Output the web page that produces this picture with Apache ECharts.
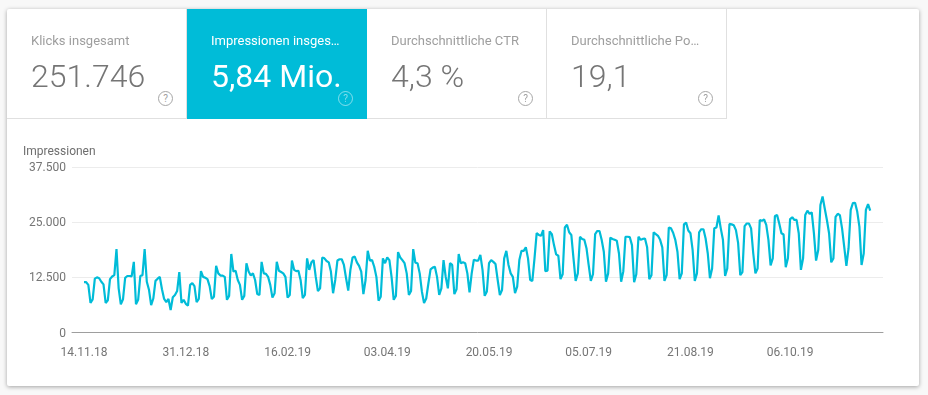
<!DOCTYPE html>
<html>
<head>
<meta charset="utf-8">
<title>Impressionen</title>
<script src="https://cdn.jsdelivr.net/npm/echarts@6/dist/echarts.min.js"></script>
<style>
  html, body { margin: 0; padding: 0; width: 928px; height: 395px; overflow: hidden; background: #f8f8f8; font-family: Roboto, sans-serif; }
  .card { position: absolute; left: 7px; top: 9px; width: 912px; height: 377px; background: #fff; border-radius: 2px; box-shadow: 0 1px 4px rgba(0,0,0,.35); }
  .tile { position: absolute; top: 0; width: 179px; height: 109px; border-right: 1px solid #e0e0e0; border-bottom: 1px solid #e0e0e0; box-sizing: content-box; color: #757575; }
  .tile .name { position: absolute; left: 24px; top: 24px; font-size: 13px; line-height: 16px; color: #9e9e9e; white-space: nowrap; will-change: transform; }
  .tile .num { position: absolute; left: 24px; top: 47px; font-size: 32px; line-height: 40px; font-weight: 300; white-space: nowrap; will-change: transform; }
  .tile .help { position: absolute; left: 151px; top: 82px; width: 13px; height: 13px; border: 1px solid #a6a6a6; border-radius: 50%; font-size: 10px; line-height: 13px; text-align: center; color: #9e9e9e; }
  .tile.active { background: #00bcd8; color: #fff; border-right-color: #00bcd8; border-bottom-color: #00bcd8; }
  .tile.active .name { color: #fff; font-weight: 400; }
  .tile.active .num { font-weight: 400; }
  .tile.active .help { color: rgba(255,255,255,.5); border-color: rgba(255,255,255,.5); }
  #chart { position: absolute; left: 0; top: 111px; width: 912px; height: 266px; }
</style>
</head>
<body>
<div class="card">
  <div id="tiles"></div>
  <div id="chart"></div>
</div>
<script>
const tileNames = ['Klicks insgesamt', 'Impressionen insges…', 'Durchschnittliche CTR', 'Durchschnittliche Po…'];
const tileValues = ['251.746', '5,84 Mio.', '4,3 %', '19,1'];

const tickDays = [0, 47, 94, 140, 187, 233, 280, 326];
const tickLabels = ['14.11.18', '31.12.18', '16.02.19', '03.04.19', '20.05.19', '05.07.19', '21.08.19', '06.10.19'];
const yLabels = { 0: '0', 12500: '12.500', 25000: '25.000', 37500: '37.500' };

// one row per week, from 14.11.18
const impressions = [
  11400, 11400, 10800, 6700, 7500, 12200, 12500,
  12300, 11500, 10900, 6700, 7300, 12100, 12700,
  13000, 18900, 10000, 6400, 7500, 12400, 12800,
  12800, 12700, 16000, 6400, 7400, 12800, 13000,
  18900, 11500, 9700, 6200, 7700, 11700, 12200,
  12600, 9800, 7600, 6900, 7600, 5100, 8000,
  8500, 9400, 13700, 6700, 7400, 6500, 6100,
  10800, 11200, 10500, 6900, 7600, 13900, 12600,
  12400, 12100, 10500, 7600, 8100, 15100, 13400,
  12900, 12900, 12600, 7400, 8300, 17800, 13800,
  14000, 11900, 10800, 7400, 8300, 15700, 13800,
  12900, 13400, 11900, 8700, 8500, 16000, 13400,
  13300, 12600, 10800, 7900, 8900, 16000, 14000,
  13700, 13400, 12600, 7900, 8500, 16300, 14200,
  13900, 14000, 11900, 7800, 8500, 16800, 14200,
  15900, 16400, 12600, 9400, 10000, 17000, 16800,
  16200, 15900, 13800, 8900, 11900, 16300, 16600,
  16600, 15300, 12300, 9500, 14200, 17000, 17200,
  15900, 15100, 13800, 8700, 11900, 18500, 16300,
  16400, 14900, 12600, 7200, 8100, 16800, 15700,
  17000, 16400, 12600, 7400, 8300, 18200, 17000,
  16400, 15700, 13400, 8500, 9400, 18900, 15800,
  15700, 13400, 9300, 6700, 7700, 11100, 14300,
  14700, 14900, 12600, 8500, 10000, 16400, 12600,
  10000, 15700, 15300, 8700, 9800, 17800, 15700,
  15900, 15700, 13400, 9100, 13400, 16500, 16300,
  16300, 17600, 14200, 8300, 9300, 15700, 16400,
  16000, 15500, 11900, 8500, 9600, 16800, 18500,
  15300, 13400, 12600, 8900, 10400, 16400, 18500,
  18500, 19300, 16800, 11900, 11700, 16800, 22500,
  22100, 21900, 23200, 13900, 14000, 22900, 22300,
  19800, 17700, 17400, 12100, 13200, 23800, 24400,
  22700, 22100, 16800, 11700, 13400, 21700, 21200,
  21000, 19100, 15300, 11700, 13200, 22300, 23000,
  23000, 21000, 18300, 11500, 13400, 21500, 21200,
  21000, 20800, 17900, 11500, 13900, 21700, 21700,
  21600, 19800, 11400, 13200, 21700, 21000, 21200,
  21300, 19300, 12100, 13000, 22700, 22300, 21900,
  21000, 19300, 11700, 13000, 23800, 23600, 22600,
  21000, 18300, 12100, 13400, 24500, 24900, 23100,
  22500, 18700, 11700, 13400, 22700, 23400, 23400,
  21300, 17900, 12300, 14500, 23600, 23800, 26500,
  23600, 21000, 12800, 14500, 24600, 24500, 24300,
  23200, 20300, 13000, 13700, 24100, 24700, 24700,
  23600, 17900, 13400, 14500, 25500, 25300, 25600,
  24400, 21000, 15200, 16800, 26400, 26600, 24700,
  22500, 22200, 14800, 16800, 25700, 26100, 25500,
  25500, 22500, 14200, 16800, 26600, 27600, 26900,
  27200, 22500, 16300, 18700, 28900, 30800, 28100,
  25500, 22500, 15900, 16800, 26200, 26900, 26600,
  23600, 19400, 15100, 19100, 27800, 29300, 29400,
  27400, 24000, 15300, 17900, 27800, 29100, 27600
];

// kpi tiles above the chart
const tilesEl = document.getElementById('tiles');
tileNames.forEach(function (name, i) {
  const tile = document.createElement('div');
  tile.className = 'tile' + (i === 1 ? ' active' : '');
  tile.style.left = (i * 180) + 'px';
  tile.innerHTML = '<div class="name">' + name + '</div><div class="num">' + tileValues[i] + '</div><div class="help">?</div>';
  tilesEl.appendChild(tile);
});

const myChart = echarts.init(document.getElementById('chart'));
myChart.setOption({
  animation: false,
  title: {
    text: 'Impressionen',
    left: 16,
    top: 26,
    padding: 0,
    textStyle: { color: '#6e6e6e', fontSize: 12, fontWeight: 400, fontFamily: 'Roboto' },
  },
  grid: { left: 65, right: 36, top: 47, height: 165.5 },
  xAxis: {
    type: 'value',
    min: -5.54,
    max: 368.9,
    axisLine: { show: true, lineStyle: { color: '#9e9e9e', width: 1 } },
    axisTick: { show: false },
    splitLine: { show: false },
    axisLabel: {
      customValues: tickDays,
      formatter: function (v) {
        return tickLabels[tickDays.indexOf(v)];
      },
      margin: 14,
      color: '#757575',
      fontSize: 12,
      fontFamily: 'Roboto',
    },
  },
  yAxis: {
    type: 'value',
    min: 0,
    max: 37500,
    interval: 12500,
    axisLine: { show: false },
    axisTick: { show: false },
    splitLine: { lineStyle: { color: '#ececec', width: 1 } },
    axisLabel: {
      formatter: function (v) {
        return '{v|' + yLabels[v] + '}';
      },
      rich: {
        // nudges the labels down onto their grid lines
        v: { padding: [2, 0, 0, 0], color: '#757575', fontSize: 12, fontFamily: 'Roboto' },
      },
      margin: 6,
    },
  },
  series: [
    {
      name: 'Impressionen',
      type: 'line',
      showSymbol: false,
      lineStyle: { color: '#00bcd8', width: 2.2 },
      data: impressions.map(function (v, i) {
        return [i, v];
      }),
    },
  ],
});
window.addEventListener('resize', function () {
  myChart.resize();
});
</script>
</body>
</html>
